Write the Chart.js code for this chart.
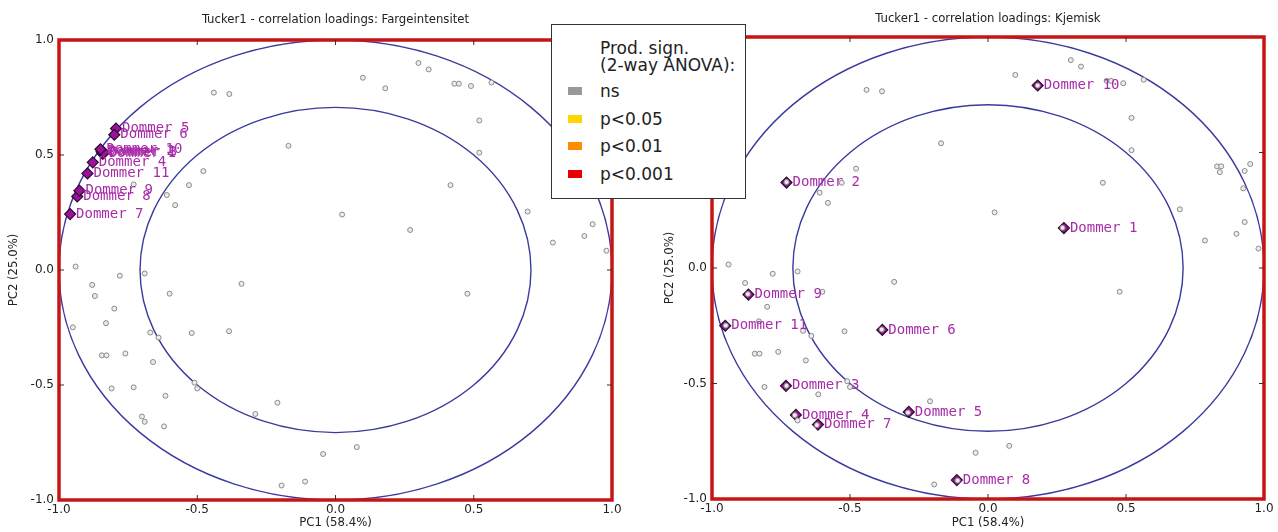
<!DOCTYPE html>
<html>
<head>
<meta charset="utf-8">
<script src="https://cdn.jsdelivr.net/npm/chart.js@4.4.1/dist/chart.umd.min.js"></script>
<style>
  body { margin: 0; background: #fff; width: 1278px; height: 532px; overflow: hidden; position: relative; }
  canvas { position: absolute; top: 0; }
  #farge { left: 0; }
  #kjemisk { left: 640px; }
  #legend { position: absolute; left: 551px; top: 24px; width: 195px; height: 175px; box-sizing: border-box;
            border: 1px solid #333; background: #fff; font-family: "DejaVu Sans", sans-serif; font-size: 17px; color: #222; z-index: 2; }
  #legend span { position: absolute; left: 48px; line-height: 20px; white-space: nowrap; }
  #legend i { position: absolute; left: 16px; width: 14px; height: 8px; }
</style>
</head>
<body>
<canvas id="farge" width="640" height="532"></canvas>
<canvas id="kjemisk" width="638" height="532"></canvas>
<div id="legend">
  <span style="top:13px">Prod. sign.</span>
  <span style="top:30px">(2-way ANOVA):</span>
  <i style="top:62px;background:#999"></i><span style="top:56px">ns</span>
  <i style="top:90px;background:#ffd700"></i><span style="top:84px">p&lt;0.05</span>
  <i style="top:117px;background:#ff8c00"></i><span style="top:111px">p&lt;0.01</span>
  <i style="top:145px;background:#e60000"></i><span style="top:139px">p&lt;0.001</span>
</div>
<script>
// axis ticks
const tickValues = [-1, -0.5, 0, 0.5, 1];
const tickLabels = ['-1.0', '-0.5', '0.0', '0.5', '1.0'];
// 100% and 50% explained variance circles
const circleRadii = [1.0, 0.707];

// sensory variables (grey, ns) - same loadings in both plots
const variablesX = [-0.94, -0.78, -0.69, -0.88, -0.87, -0.60, -0.34, -0.80, -0.95, -0.83,
  -0.67, -0.64, -0.52, -0.385, -0.845, -0.828, -0.76, -0.66, -0.81, -0.73,
  -0.51, -0.50, -0.615, -0.21, -0.29, -0.70, -0.69, -0.62, 0.077, -0.045,
  -0.11, -0.195, 0.477, 0.27, 0.024, 0.695, 0.786, 0.90, 0.93, 0.98,
  0.416, 0.52, -0.478, -0.53, -0.61, -0.58, -0.73, -0.44, -0.384, 0.099,
  0.18, 0.30, 0.337, 0.43, 0.446, 0.49, 0.564, 0.52, -0.17, 0.83,
  0.845, 0.84, 0.93, 0.95, 0.925];
const variablesY = [0.015, -0.025, -0.015, -0.065, -0.113, -0.103, -0.06, -0.168, -0.249, -0.231,
  -0.272, -0.294, -0.274, -0.266, -0.371, -0.371, -0.363, -0.40, -0.515, -0.51,
  -0.49, -0.515, -0.547, -0.577, -0.626, -0.637, -0.66, -0.68, -0.77, -0.80,
  -0.92, -0.937, -0.103, 0.174, 0.241, 0.254, 0.119, 0.148, 0.199, 0.084,
  0.369, 0.51, 0.43, 0.369, 0.326, 0.282, 0.372, 0.771, 0.765, 0.836,
  0.79, 0.90, 0.872, 0.81, 0.81, 0.80, 0.815, 0.65, 0.54, 0.44,
  0.44, 0.415, 0.42, 0.45, 0.345];

// assessors
const dommerNames = ['Dommer 1', 'Dommer 2', 'Dommer 3', 'Dommer 4', 'Dommer 5', 'Dommer 6',
  'Dommer 7', 'Dommer 8', 'Dommer 9', 'Dommer 10', 'Dommer 11'];
const fargeX = [-0.842, -0.846, -0.838, -0.878, -0.794, -0.800, -0.960, -0.934, -0.926, -0.850, -0.897];
const fargeY = [0.505, 0.514, 0.510, 0.468, 0.615, 0.588, 0.243, 0.320, 0.345, 0.525, 0.420];
const kjemiskX = [0.275, -0.73, -0.732, -0.696, -0.287, -0.383, -0.616, -0.113, -0.868, 0.18, -0.952];
const kjemiskY = [0.173, 0.37, -0.51, -0.636, -0.623, -0.268, -0.678, -0.918, -0.115, 0.79, -0.25];

const narrow = '"Liberation Sans Narrow", "DejaVu Sans Condensed", "Liberation Sans", sans-serif';

const loadingsPlugin = {
  id: 'loadings',
  beforeDatasetsDraw(chart) {
    const { ctx, chartArea: a, scales: { x, y } } = chart;
    const cx = x.getPixelForValue(0), cy = y.getPixelForValue(0);
    ctx.save();
    ctx.beginPath();
    ctx.rect(a.left, a.top, a.width, a.height);
    ctx.clip();
    ctx.strokeStyle = '#3a3a9e';
    ctx.lineWidth = 1.4;
    circleRadii.forEach(r => {
      ctx.beginPath();
      ctx.ellipse(cx, cy, x.getPixelForValue(r) - cx, cy - y.getPixelForValue(r), 0, 0, Math.PI * 2);
      ctx.stroke();
    });
    ctx.restore();
  },
  afterDatasetsDraw(chart) {
    const { ctx } = chart;
    const meta = chart.getDatasetMeta(1);
    ctx.save();
    ctx.font = '14px "DejaVu Sans Mono", monospace';
    ctx.fillStyle = '#a82ca8';
    ctx.textBaseline = 'middle';
    meta.data.forEach((pt, i) => {
      ctx.fillText(dommerNames[i], pt.x + 6, pt.y);
    });
    ctx.restore();
  },
  afterDraw(chart) {
    const { ctx, chartArea: a, scales: { x, y } } = chart;
    ctx.save();
    ctx.strokeStyle = '#c81414';
    ctx.lineWidth = 3.5;
    ctx.strokeRect(a.left, a.top, a.width, a.height);
    ctx.strokeStyle = '#333';
    ctx.lineWidth = 1;
    ctx.beginPath();
    tickValues.slice(1, -1).forEach(v => {
      const px = x.getPixelForValue(v), py = y.getPixelForValue(v);
      ctx.moveTo(px, a.top); ctx.lineTo(px, a.top + 5);
      ctx.moveTo(px, a.bottom); ctx.lineTo(px, a.bottom - 5);
      ctx.moveTo(a.left, py); ctx.lineTo(a.left + 5, py);
      ctx.moveTo(a.right, py); ctx.lineTo(a.right - 5, py);
    });
    ctx.stroke();
    ctx.restore();
  }
};

function makeChart(id, title, dx, dy, opt) {
  const tickFont = { family: '"DejaVu Sans", sans-serif', size: 12 };
  const setTicks = s => { s.ticks = tickValues.map(v => ({ value: v })); };
  return new Chart(document.getElementById(id), {
    type: 'scatter',
    data: {
      datasets: [{
        data: variablesX.map((v, i) => ({ x: v, y: variablesY[i] })),
        pointStyle: 'circle',
        pointRadius: 2.5,
        borderWidth: 1,
        borderColor: '#8a8a8a',
        backgroundColor: '#ececec'
      }, {
        data: dx.map((v, i) => ({ x: v, y: dy[i] })),
        pointStyle: 'rectRot',
        pointRadius: 5.5,
        borderWidth: 1.2,
        borderColor: '#2a0a2a',
        backgroundColor: '#9b119b'
      }]
    },
    options: {
      responsive: false,
      animation: false,
      events: [],
      layout: { padding: { left: opt.padLeft, right: opt.padRight, top: 0, bottom: 0 } },
      plugins: {
        legend: { display: false },
        tooltip: { enabled: false },
        title: {
          display: true,
          text: title,
          fullSize: false,
          color: '#222',
          font: { family: narrow, size: 13, weight: 'normal', lineHeight: 1.2 },
          padding: { top: opt.titleTop, bottom: opt.titleBottom }
        }
      },
      scales: {
        x: {
          type: 'linear', min: -1, max: 1,
          afterBuildTicks: setTicks,
          afterFit: s => { s.height = opt.xHeight; },
          grid: { display: false, drawTicks: false },
          border: { display: false },
          ticks: { callback: (v, i) => tickLabels[i], autoSkip: false, maxRotation: 0, padding: 3, color: '#222', font: tickFont },
          title: { display: true, text: 'PC1 (58.4%)', color: '#222', font: { family: narrow, size: 13, lineHeight: 1.2 }, padding: { top: 0, bottom: 2 } }
        },
        y: {
          type: 'linear', min: -1, max: 1,
          afterBuildTicks: setTicks,
          afterFit: s => { s.width = opt.yWidth; },
          grid: { display: false, drawTicks: false },
          border: { display: false },
          ticks: { callback: (v, i) => tickLabels[i], autoSkip: false, padding: 5, color: '#222', font: tickFont },
          title: { display: true, text: 'PC2 (25.0%)', color: '#222', font: { family: narrow, size: 13, lineHeight: 1.2 }, padding: { top: 0, bottom: 0 } }
        }
      }
    },
    plugins: [loadingsPlugin]
  });
}

makeChart('farge', 'Tucker1 - correlation loadings: Fargeintensitet', fargeX, fargeY,
  { padLeft: 6, padRight: 28, yWidth: 53, xHeight: 32, titleTop: 12, titleBottom: 12.4 });
makeChart('kjemisk', 'Tucker1 - correlation loadings: Kjemisk', kjemiskX, kjemiskY,
  { padLeft: 22, padRight: 14, yWidth: 50, xHeight: 33, titleTop: 11, titleBottom: 10.4 });
</script>
</body>
</html>
